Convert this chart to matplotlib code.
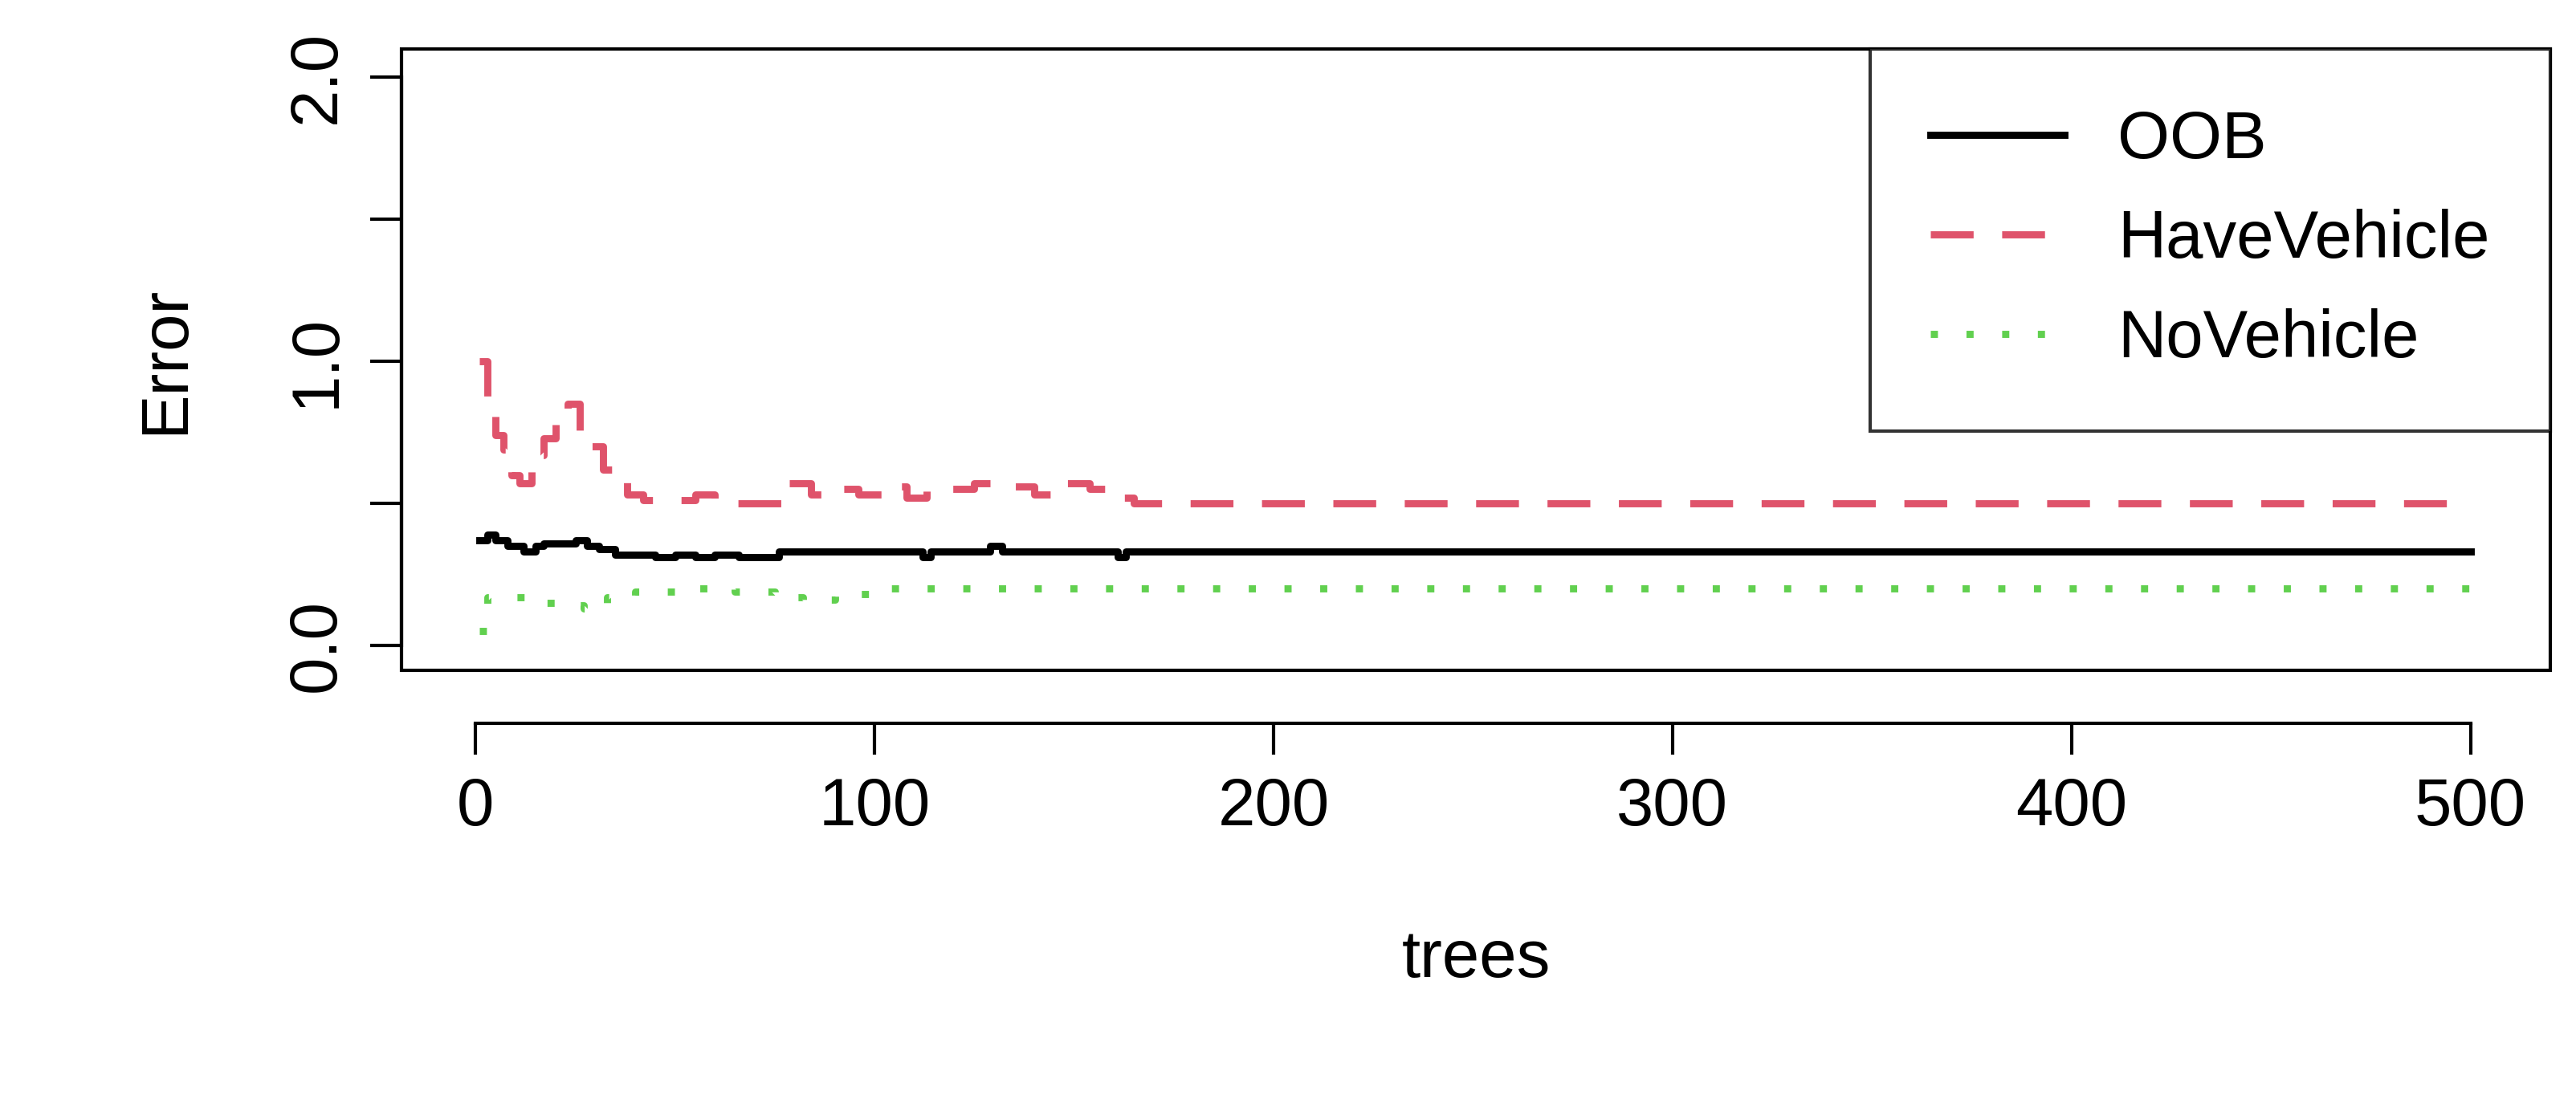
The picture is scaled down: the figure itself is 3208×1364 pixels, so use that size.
import numpy as np
import matplotlib
matplotlib.use("Agg")
import matplotlib.pyplot as plt
from matplotlib.lines import Line2D

plt.rcParams['font.family'] = ['Liberation Sans', 'DejaVu Sans']
FS = 30

# error rate at change points (trees, value)
oob_trees = [1, 3, 5, 8, 12, 15, 17, 25, 28, 31, 35, 45, 50, 55, 60, 66, 70, 76, 112, 114, 129, 132, 161, 163, 500]
oob_err = [0.37, 0.39, 0.37, 0.35, 0.33, 0.35, 0.36, 0.37, 0.35, 0.34, 0.32, 0.31, 0.32, 0.31, 0.32, 0.31, 0.31, 0.33, 0.31, 0.33, 0.35, 0.33, 0.31, 0.33, 0.33]

have_trees = [1, 3, 5, 7, 9, 11, 14, 17, 20, 23, 26, 29, 32, 38, 42, 55, 60, 66, 78, 84, 90, 96, 102, 108, 113, 125, 132, 140, 148, 154, 160, 165, 500]
have_err = [1.0, 0.85, 0.74, 0.69, 0.6, 0.57, 0.67, 0.73, 0.78, 0.85, 0.72, 0.7, 0.62, 0.53, 0.51, 0.53, 0.5, 0.5, 0.57, 0.53, 0.55, 0.53, 0.56, 0.52, 0.55, 0.57, 0.56, 0.53, 0.57, 0.55, 0.52, 0.5, 0.5]

no_trees = [1, 3, 10, 16, 22, 27, 33, 40, 55, 65, 75, 82, 90, 100, 500]
no_err = [0.05, 0.17, 0.17, 0.15, 0.14, 0.13, 0.17, 0.19, 0.2, 0.19, 0.17, 0.16, 0.18, 0.2, 0.21]

fig = plt.figure(figsize=(16.04, 6.82), dpi=200)
ax = fig.add_axes([0.156, 0.388, 0.834, 0.567])

ax.plot(oob_trees, oob_err, color='black', lw=3.2, drawstyle='steps-post')
ax.plot(have_trees, have_err, color='#DF536B', lw=3.2, drawstyle='steps-post',
        dashes=(6, 4))
ax.plot(no_trees, no_err, color='#61D04F', lw=3.2, drawstyle='steps-post',
        dashes=(1, 4))

ax.set_xlim(-18.5, 520)
ax.set_ylim(-0.087, 2.098)

ax.set_xticks([0, 100, 200, 300, 400, 500])
ax.set_yticks([0, 0.5, 1.0, 1.5, 2.0])
ax.set_yticklabels(['0.0', '', '1.0', '', '2.0'])
ax.tick_params(labelsize=FS, length=14, width=1.5, pad=10)
ax.tick_params(axis='y', labelrotation=90)
for lab in ax.get_yticklabels():
    lab.set_va('center')

# R style: detached x axis line, plus a full box around the region
for s in ax.spines.values():
    s.set_visible(False)
ax.spines['bottom'].set_visible(True)
ax.spines['left'].set_visible(True)
ax.spines['bottom'].set_bounds(0, 500)
ax.spines['left'].set_bounds(0, 2.0)
ax.spines['bottom'].set_linewidth(1.5)
ax.spines['left'].set_linewidth(1.5)
ax.spines['bottom'].set_position(('axes', -0.085))
box = plt.Rectangle((0, 0), 1, 1, transform=ax.transAxes, fill=False,
                    lw=1.5, color='black', clip_on=False)
ax.add_patch(box)

ax.set_xlabel('trees', fontsize=FS, labelpad=40)
ax.set_ylabel('Error', fontsize=FS, labelpad=40)

handles = [
    Line2D([], [], color='black', lw=3.2),
    Line2D([], [], color='#DF536B', lw=3.2, dashes=(6, 4)),
    Line2D([], [], color='#61D04F', lw=3.2, dashes=(1, 4)),
]
leg = ax.legend(handles, ['OOB', 'HaveVehicle', 'NoVehicle'], loc='upper right',
                fontsize=FS, frameon=True, fancybox=False, borderaxespad=0,
                handlelength=2.0, handletextpad=0.8, labelspacing=0.55,
                borderpad=0.9, borderaxespad_=None) if False else None
leg = ax.legend(handles, ['OOB', 'HaveVehicle', 'NoVehicle'], loc='upper right',
                fontsize=FS, frameon=True, fancybox=False, borderaxespad=0,
                handlelength=2.0, handletextpad=0.8, labelspacing=0.55,
                borderpad=0.9)
leg.get_frame().set_edgecolor('black')
leg.get_frame().set_linewidth(1.5)

fig.savefig('out.png', dpi=200)
